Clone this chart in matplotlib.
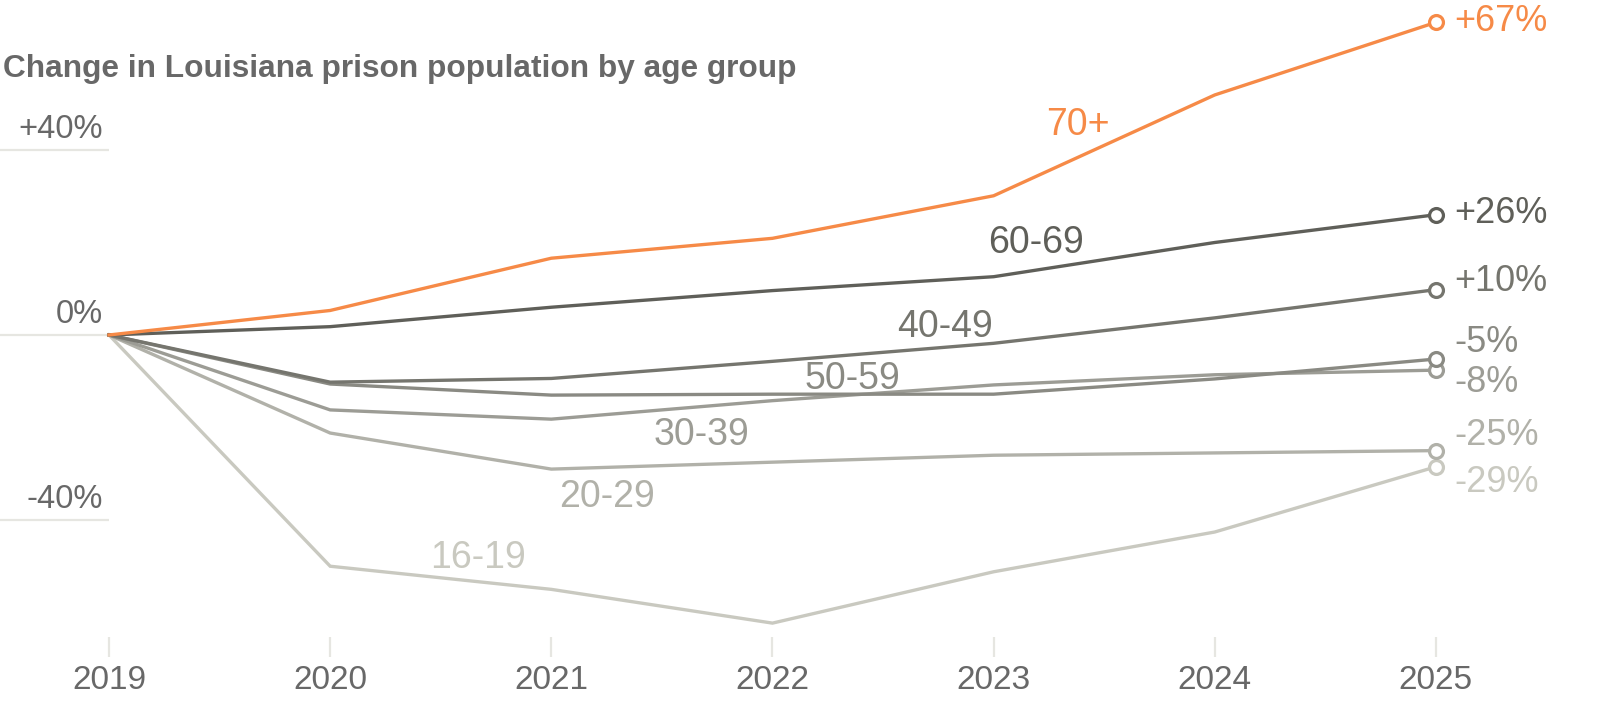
import matplotlib
matplotlib.use("Agg")
import matplotlib.pyplot as plt

# data: percent change in prison population vs 2019, by age group
years = [2019, 2020, 2021, 2022, 2023, 2024, 2025]
groups = ["16-19", "20-29", "30-39", "50-59", "40-49", "60-69", "70+"]
change = {
    "16-19": [0, -50, -55, -62.3, -51.2, -42.6, -28.5],
    "20-29": [0, -21.2, -29, -27.5, -26, -25.5, -25],
    "30-39": [0, -16.2, -18.2, -14.2, -10.8, -8.6, -7.6],
    "50-59": [0, -10.6, -13, -12.8, -12.8, -9.5, -5.2],
    "40-49": [0, -10.2, -9.4, -5.7, -1.8, 3.7, 9.8],
    "60-69": [0, 1.8, 6, 9.6, 12.6, 20, 26],
    "70+": [0, 5.3, 16.6, 20.9, 30.1, 51.9, 67.6],
}
end_labels = {"16-19": "-29%", "20-29": "-25%", "30-39": "-8%", "50-59": "-5%",
              "40-49": "+10%", "60-69": "+26%", "70+": "+67%"}
yticks = [40, 0, -40]
ytick_labels = ["+40%", "0%", "-40%"]

colors = {"16-19": "#c9c9c0", "20-29": "#b1b1a9", "30-39": "#9c9c95",
          "50-59": "#8a8a83", "40-49": "#75756e", "60-69": "#5f5f59",
          "70+": "#f68a47"}
# (year, value) where each group name sits, and the y of each end label
name_pos = {"16-19": (2020.67, -48.2), "20-29": (2021.25, -35.0),
            "30-39": (2021.68, -21.6), "50-59": (2022.36, -9.5),
            "40-49": (2022.78, 1.7), "60-69": (2023.19, 19.9),
            "70+": (2023.38, 45.4)}
end_y = {"16-19": -31.8, "20-29": -21.8, "30-39": -10.2, "50-59": -1.7,
         "40-49": 11.5, "60-69": 26.2, "70+": 67.7}

plt.rcParams["font.family"] = ["Liberation Sans", "DejaVu Sans"]
TXT = "#686868"

fig = plt.figure(figsize=(16, 7.22), dpi=100)
ax = fig.add_axes([0, 0, 1, 1])
ax.set_xlim(2018.507, 2025.742)
ax.set_ylim(-83.68, 72.43)
ax.axis("off")

# short grid stubs under the y labels
x0 = ax.get_xlim()[0]
ax.hlines(yticks, x0, years[0], color="#e6e6e1", lw=1.6, zorder=0)
for v, lab in zip(yticks, ytick_labels):
    ax.text(years[0] - 0.03, v + 1.0, lab, ha="right", va="bottom",
            fontsize=23.5, color=TXT)

# x ticks and labels
ax.vlines(years, -65.3, -69.6, color="#e6e6e1", lw=1.6)
for yr in years:
    ax.text(yr, -74.8, str(yr), ha="center", va="center", fontsize=24, color=TXT)

for g in groups:
    c = colors[g]
    ax.plot(years, change[g], color=c, lw=2.4, solid_joinstyle="miter", zorder=2)
    ax.plot(years[-1], change[g][-1], "o", ms=10, mfc="white", mec=c, mew=2.3,
            zorder=3)
    nx, ny = name_pos[g]
    ax.text(nx, ny, g, ha="center", va="center", fontsize=27, color=c)
    ax.text(years[-1] + 0.085, end_y[g], end_labels[g], ha="left", va="center",
            fontsize=26, color=c)

fig.text(0.002, 0.905, "Change in Louisiana prison population by age group",
         ha="left", va="center", fontsize=22.8, fontweight="bold", color=TXT)

fig.savefig("out.png", dpi=100)
